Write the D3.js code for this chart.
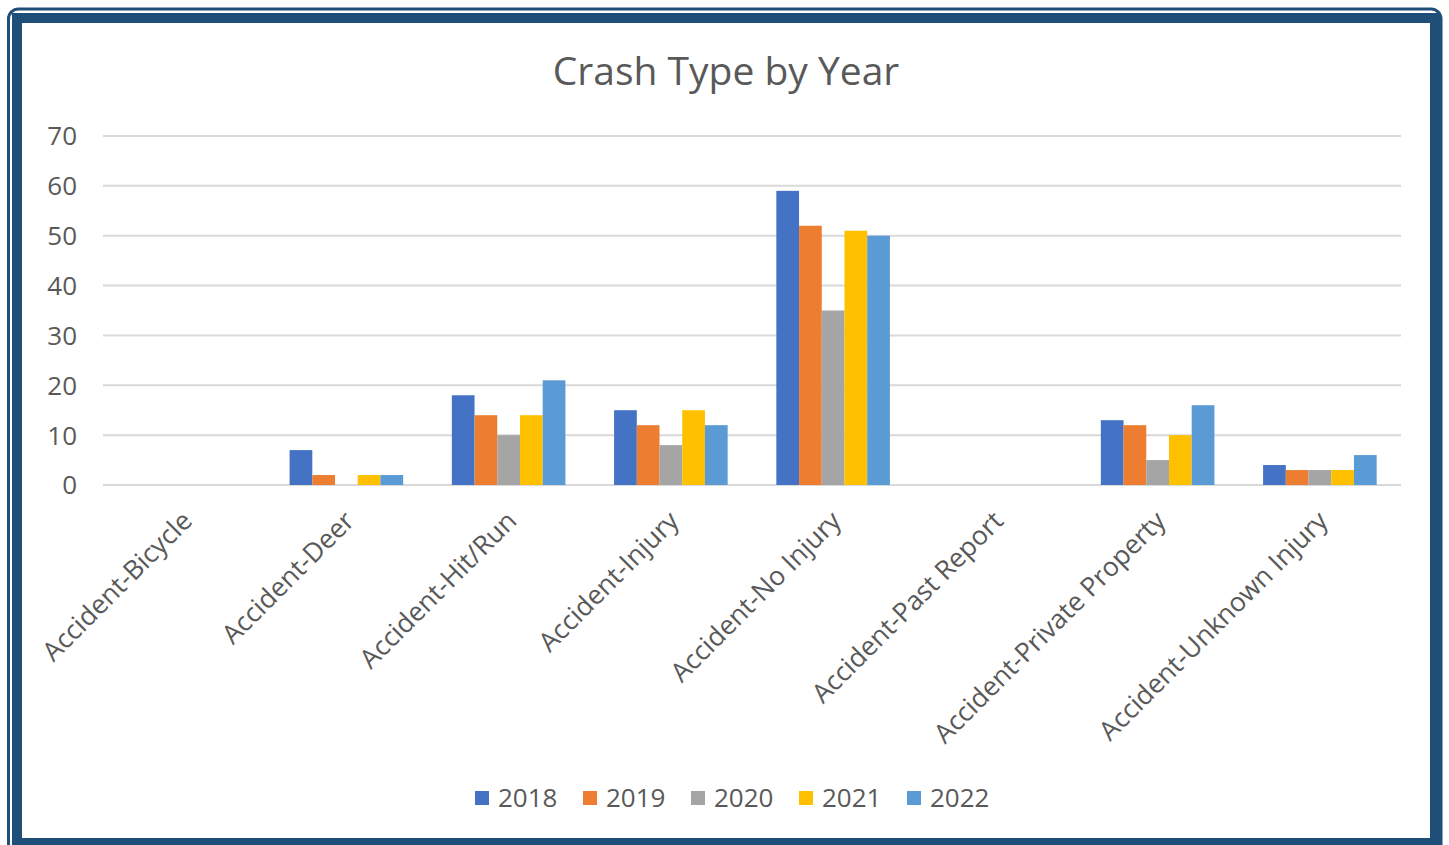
<!DOCTYPE html>
<html>
<head>
<meta charset="utf-8">
<script src="https://cdn.jsdelivr.net/npm/d3@7"></script>
<style>
  body { margin: 0; background: #fff; overflow: hidden; }
  text { font-family: "Open Sans", "Noto Sans", sans-serif; fill: #595959; }
</style>
</head>
<body>
<script>
// data
let categories = ["Accident-Bicycle", "Accident-Deer", "Accident-Hit/Run", "Accident-Injury",
  "Accident-No Injury", "Accident-Past Report", "Accident-Private Property", "Accident-Unknown Injury"];
let years = ["2018", "2019", "2020", "2021", "2022"];
let v2018 = [0, 7, 18, 15, 59, 0, 13, 4];
let v2019 = [0, 2, 14, 12, 52, 0, 12, 3];
let v2020 = [0, 0, 10, 8, 35, 0, 5, 3];
let v2021 = [0, 2, 14, 15, 51, 0, 10, 3];
let v2022 = [0, 2, 21, 12, 50, 0, 16, 6];
let yTicks = [0, 10, 20, 30, 40, 50, 60, 70];
let colors = ["#4472C4", "#ED7D31", "#A5A5A5", "#FFC000", "#5B9BD5"];

let series = [v2018, v2019, v2020, v2021, v2022];

let width = 1449,
    height = 845,
    margin = {top: 136, right: 48, bottom: 360, left: 103},
    innerWidth = width - margin.left - margin.right,
    innerHeight = height - margin.top - margin.bottom;

let svg = d3.select("body").append("svg").attr("width", width).attr("height", height)
  .style("display", "block");

// frame: thin rounded outer line, thick inner band
svg.append("path")
  .attr("d", "M8.5,845 V19 A10,10 0 0 1 18.5,9 H1431 A10,10 0 0 1 1441,19 V845")
  .attr("fill", "none").attr("stroke", "#1F4E79").attr("stroke-width", 3);
svg.append("rect").attr("x", 12).attr("y", 13).attr("width", 1428).attr("height", 832)
  .attr("fill", "#1F4E79");
svg.append("rect").attr("x", 22).attr("y", 23).attr("width", 1408).attr("height", 815)
  .attr("fill", "#fff");

svg.append("text")
  .attr("x", 726).attr("y", 85)
  .attr("text-anchor", "middle")
  .style("font-size", "39px")
  .text("Crash Type by Year");

let g = svg.append("g").attr("transform", "translate(" + margin.left + "," + margin.top + ")");

let x0 = d3.scaleBand().domain(categories).range([0, innerWidth]).paddingInner(0.3).paddingOuter(0.15);
let x1 = d3.scaleBand().domain(years).range([0, x0.bandwidth()]);
let y = d3.scaleLinear().domain([0, 70]).range([innerHeight, 0]);

// gridlines
g.append("g").selectAll("line").data(yTicks).enter().append("line")
  .attr("x1", 0).attr("x2", innerWidth)
  .attr("y1", d => y(d)).attr("y2", d => y(d))
  .attr("stroke", "#D9D9D9").attr("stroke-width", 2);

// y labels
g.append("g").selectAll("text").data(yTicks).enter().append("text")
  .attr("x", -26).attr("y", d => y(d)).attr("dy", "0.36em")
  .attr("text-anchor", "end")
  .style("font-size", "26px")
  .text(d => d);

// bars
let groups = g.append("g").selectAll("g").data(categories).enter().append("g")
  .attr("transform", d => "translate(" + x0(d) + ",0)");

groups.selectAll("rect")
  .data((d, i) => years.map((yr, j) => ({year: yr, value: series[j][i], c: colors[j]})))
  .enter().append("rect")
  .attr("x", d => x1(d.year))
  .attr("width", x1.bandwidth())
  .attr("y", d => y(d.value))
  .attr("height", d => innerHeight - y(d.value))
  .attr("fill", d => d.c);

// x labels
g.append("g").selectAll("text").data(categories).enter().append("text")
  .attr("transform", d => "translate(" + (x0(d) + x0.bandwidth() / 2 + 3) + "," + (innerHeight + 31) + ") rotate(-45)")
  .attr("text-anchor", "end")
  .attr("dy", "0.35em")
  .style("font-size", "26.5px")
  .text(d => d);

// legend
let legend = svg.append("g").selectAll("g").data(years).enter().append("g")
  .attr("transform", (d, i) => "translate(" + (475 + i * 108) + ",791)");
legend.append("rect").attr("width", 14).attr("height", 14).attr("fill", (d, i) => colors[i]);
legend.append("text").attr("x", 23).attr("y", 7).attr("dy", "0.36em")
  .style("font-size", "26px").text(d => d);
</script>
</body>
</html>
